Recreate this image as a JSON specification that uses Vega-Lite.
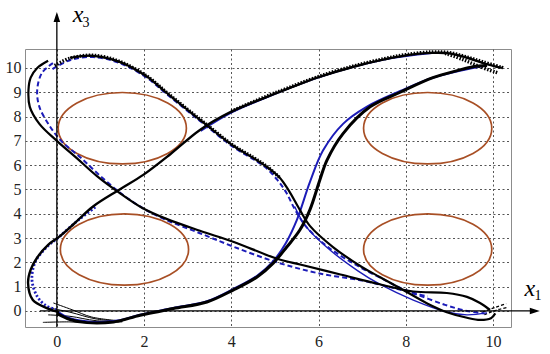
{
"$schema": "https://vega.github.io/schema/vega-lite/v6.json",
"width": 486, "height": 278,
"autosize": {"type": "none"},
"padding": {"left": 25, "top": 49, "right": 39, "bottom": 27},
"background": "white",
"config": {
  "view": {"stroke": "#8c8c8c", "strokeWidth": 1},
  "axis": {"grid": true, "gridDash": [2, 2.5], "gridColor": "#555", "gridWidth": 1, "domain": false, "ticks": false, "labelFont": "Liberation Serif", "labelFontSize": 16, "labelColor": "#222", "title": null},
  "line": {"interpolate": "catmull-rom", "strokeCap": "butt"}
},
"datasets": {
  "traj": [
    {"s":"p1k","i":0,"x":-0.2,"y":10.3},{"s":"p1k","i":1,"x":-0.45,"y":10.0},{"s":"p1k","i":2,"x":-0.6,"y":9.6},{"s":"p1k","i":3,"x":-0.65,"y":9.1},{"s":"p1k","i":4,"x":-0.62,"y":8.4},{"s":"p1k","i":5,"x":-0.4,"y":7.7},{"s":"p1k","i":6,"x":0,"y":7.0},{"s":"p1k","i":7,"x":0.45,"y":6.3},{"s":"p1k","i":8,"x":0.92,"y":5.55},{"s":"p1k","i":9,"x":1.42,"y":4.88},{"s":"p1k","i":10,"x":1.95,"y":4.25},{"s":"p1k","i":11,"x":2.5,"y":3.8},{"s":"p1k","i":12,"x":3.28,"y":3.3},{"s":"p1k","i":13,"x":4.04,"y":2.85},{"s":"p1k","i":14,"x":5.05,"y":2.15},{"s":"p1k","i":15,"x":5.6,"y":1.9},{"s":"p1k","i":16,"x":6.5,"y":1.5},{"s":"p1k","i":17,"x":7.4,"y":1.1},{"s":"p1k","i":18,"x":8.17,"y":0.8},{"s":"p1k","i":19,"x":8.94,"y":0.74},{"s":"p1k","i":20,"x":9.4,"y":0.58},{"s":"p1k","i":21,"x":9.7,"y":0.33},{"s":"p1k","i":22,"x":9.93,"y":0.04},
    {"s":"p1b","i":0,"x":-0.09,"y":10.2},{"s":"p1b","i":1,"x":-0.34,"y":9.8},{"s":"p1b","i":2,"x":-0.45,"y":9.1},{"s":"p1b","i":3,"x":-0.4,"y":8.4},{"s":"p1b","i":4,"x":-0.16,"y":7.6},{"s":"p1b","i":5,"x":0.1,"y":7.0},{"s":"p1b","i":6,"x":0.55,"y":6.3},{"s":"p1b","i":7,"x":1.0,"y":5.55},{"s":"p1b","i":8,"x":1.5,"y":4.8},{"s":"p1b","i":9,"x":2.0,"y":4.2},{"s":"p1b","i":10,"x":2.5,"y":3.75},{"s":"p1b","i":11,"x":3.28,"y":3.2},{"s":"p1b","i":12,"x":4.04,"y":2.65},{"s":"p1b","i":13,"x":5.05,"y":2.0},{"s":"p1b","i":14,"x":6,"y":1.55},{"s":"p1b","i":15,"x":7.0,"y":1.25},{"s":"p1b","i":16,"x":7.6,"y":1.0},{"s":"p1b","i":17,"x":8.17,"y":0.72},{"s":"p1b","i":18,"x":8.9,"y":0.25},{"s":"p1b","i":19,"x":9.4,"y":0.0},{"s":"p1b","i":20,"x":9.8,"y":-0.1},
    {"s":"p2k","i":0,"x":0.05,"y":-0.05},{"s":"p2k","i":1,"x":-0.23,"y":0.12},{"s":"p2k","i":2,"x":-0.55,"y":0.45},{"s":"p2k","i":3,"x":-0.66,"y":1.15},{"s":"p2k","i":4,"x":-0.6,"y":1.7},{"s":"p2k","i":5,"x":-0.45,"y":2.2},{"s":"p2k","i":6,"x":-0.2,"y":2.72},{"s":"p2k","i":7,"x":0.05,"y":3.05},{"s":"p2k","i":8,"x":0.4,"y":3.6},{"s":"p2k","i":9,"x":0.83,"y":4.3},{"s":"p2k","i":10,"x":1.44,"y":5.0},{"s":"p2k","i":11,"x":1.98,"y":5.6},{"s":"p2k","i":12,"x":2.6,"y":6.45},{"s":"p2k","i":13,"x":3.28,"y":7.45},{"s":"p2k","i":14,"x":4.0,"y":8.2},{"s":"p2k","i":15,"x":4.73,"y":8.75},{"s":"p2k","i":16,"x":5.3,"y":9.15},{"s":"p2k","i":17,"x":6,"y":9.62},{"s":"p2k","i":18,"x":6.8,"y":10.05},{"s":"p2k","i":19,"x":7.5,"y":10.35},{"s":"p2k","i":20,"x":8.0,"y":10.52},{"s":"p2k","i":21,"x":8.6,"y":10.62},{"s":"p2k","i":22,"x":9.0,"y":10.6},{"s":"p2k","i":23,"x":9.4,"y":10.42},{"s":"p2k","i":24,"x":9.77,"y":10.2},{"s":"p2k","i":25,"x":10.2,"y":10.0},
    {"s":"p2d","i":0,"x":4.0,"y":8.22},{"s":"p2d","i":1,"x":4.73,"y":8.78},{"s":"p2d","i":2,"x":5.3,"y":9.18},{"s":"p2d","i":3,"x":6,"y":9.65},{"s":"p2d","i":4,"x":6.8,"y":10.08},{"s":"p2d","i":5,"x":7.5,"y":10.38},{"s":"p2d","i":6,"x":8.0,"y":10.55},{"s":"p2d","i":7,"x":8.6,"y":10.66},{"s":"p2d","i":8,"x":9.0,"y":10.63},{"s":"p2d","i":9,"x":9.4,"y":10.45},{"s":"p2d","i":10,"x":9.77,"y":10.25},{"s":"p2d","i":11,"x":10.25,"y":10.0},
    {"s":"p2e","i":0,"x":8.9,"y":10.6},{"s":"p2e","i":1,"x":9.3,"y":10.35},{"s":"p2e","i":2,"x":9.7,"y":10.05},{"s":"p2e","i":3,"x":10.1,"y":9.8},
    {"s":"p2b","i":0,"x":0.0,"y":0.05},{"s":"p2b","i":1,"x":-0.25,"y":0.22},{"s":"p2b","i":2,"x":-0.45,"y":0.6},{"s":"p2b","i":3,"x":-0.57,"y":1.28},{"s":"p2b","i":4,"x":-0.5,"y":2.0},{"s":"p2b","i":5,"x":-0.25,"y":2.6},{"s":"p2b","i":6,"x":0.05,"y":3.05},{"s":"p2b","i":7,"x":0.5,"y":3.75},{"s":"p2b","i":8,"x":0.9,"y":4.3},
    {"s":"p2s","i":0,"x":3.3,"y":7.4},{"s":"p2s","i":1,"x":4.0,"y":8.15},{"s":"p2s","i":2,"x":4.73,"y":8.72},{"s":"p2s","i":3,"x":6,"y":9.6},{"s":"p2s","i":4,"x":7.5,"y":10.33},{"s":"p2s","i":5,"x":8.6,"y":10.6},
    {"s":"p3k","i":0,"x":0.0,"y":-0.1},{"s":"p3k","i":1,"x":0.3,"y":-0.35},{"s":"p3k","i":2,"x":0.69,"y":-0.48},{"s":"p3k","i":3,"x":1.3,"y":-0.45},{"s":"p3k","i":4,"x":1.91,"y":-0.18},{"s":"p3k","i":5,"x":2.67,"y":0.1},{"s":"p3k","i":6,"x":3.44,"y":0.37},{"s":"p3k","i":7,"x":4.04,"y":0.86},{"s":"p3k","i":8,"x":4.59,"y":1.4},{"s":"p3k","i":9,"x":4.96,"y":1.97},{"s":"p3k","i":10,"x":5.27,"y":2.63},{"s":"p3k","i":11,"x":5.57,"y":3.33},{"s":"p3k","i":12,"x":5.8,"y":4.16},{"s":"p3k","i":13,"x":6.03,"y":5.4},{"s":"p3k","i":14,"x":6.19,"y":6.2},{"s":"p3k","i":15,"x":6.56,"y":7.3},{"s":"p3k","i":16,"x":7.18,"y":8.4},{"s":"p3k","i":17,"x":7.87,"y":9.0},{"s":"p3k","i":18,"x":8.62,"y":9.6},{"s":"p3k","i":19,"x":9.2,"y":9.9},{"s":"p3k","i":20,"x":9.54,"y":10.05},{"s":"p3k","i":21,"x":9.86,"y":10.1},
    {"s":"p3b","i":0,"x":0.0,"y":0.0},{"s":"p3b","i":1,"x":0.3,"y":-0.3},{"s":"p3b","i":2,"x":0.83,"y":-0.45},{"s":"p3b","i":3,"x":1.44,"y":-0.38},{"s":"p3b","i":4,"x":1.91,"y":-0.15},{"s":"p3b","i":5,"x":2.67,"y":0.12},{"s":"p3b","i":6,"x":3.44,"y":0.4},{"s":"p3b","i":7,"x":4.04,"y":0.9},{"s":"p3b","i":8,"x":4.59,"y":1.45},{"s":"p3b","i":9,"x":4.96,"y":2.05},{"s":"p3b","i":10,"x":5.25,"y":2.8},{"s":"p3b","i":11,"x":5.5,"y":3.74},{"s":"p3b","i":12,"x":5.8,"y":5.3},{"s":"p3b","i":13,"x":6.1,"y":6.6},{"s":"p3b","i":14,"x":6.56,"y":7.7},{"s":"p3b","i":15,"x":7.1,"y":8.4},{"s":"p3b","i":16,"x":7.87,"y":9.05},{"s":"p3b","i":17,"x":8.62,"y":9.6},{"s":"p3b","i":18,"x":9.54,"y":10.0},{"s":"p3b","i":19,"x":9.86,"y":10.1},
    {"s":"p4k","i":0,"x":0.3,"y":10.42},{"s":"p4k","i":1,"x":0.83,"y":10.5},{"s":"p4k","i":2,"x":1.44,"y":10.25},{"s":"p4k","i":3,"x":2.06,"y":9.65},{"s":"p4k","i":4,"x":2.5,"y":9.0},{"s":"p4k","i":5,"x":2.98,"y":8.3},{"s":"p4k","i":6,"x":3.4,"y":7.7},{"s":"p4k","i":7,"x":4.04,"y":6.8},{"s":"p4k","i":8,"x":4.5,"y":6.3},{"s":"p4k","i":9,"x":4.8,"y":5.95},{"s":"p4k","i":10,"x":5.1,"y":5.5},{"s":"p4k","i":11,"x":5.3,"y":5.0},{"s":"p4k","i":12,"x":5.57,"y":4.16},{"s":"p4k","i":13,"x":5.8,"y":3.5},{"s":"p4k","i":14,"x":6.33,"y":2.63},{"s":"p4k","i":15,"x":7.0,"y":1.8},{"s":"p4k","i":16,"x":7.4,"y":1.4},{"s":"p4k","i":17,"x":8.0,"y":0.8},{"s":"p4k","i":18,"x":8.5,"y":0.3},{"s":"p4k","i":19,"x":8.94,"y":-0.05},{"s":"p4k","i":20,"x":9.4,"y":-0.28},{"s":"p4k","i":21,"x":9.7,"y":-0.37},{"s":"p4k","i":22,"x":9.95,"y":-0.3},{"s":"p4k","i":23,"x":10.05,"y":-0.1},
    {"s":"p4d","i":0,"x":-0.05,"y":10.1},{"s":"p4d","i":1,"x":0.3,"y":10.4},{"s":"p4d","i":2,"x":0.83,"y":10.52},{"s":"p4d","i":3,"x":1.44,"y":10.27},{"s":"p4d","i":4,"x":2.06,"y":9.67},{"s":"p4d","i":5,"x":2.5,"y":9.02},{"s":"p4d","i":6,"x":2.98,"y":8.32},{"s":"p4d","i":7,"x":3.4,"y":7.72},{"s":"p4d","i":8,"x":4.04,"y":6.82},{"s":"p4d","i":9,"x":4.5,"y":6.32},{"s":"p4d","i":10,"x":4.8,"y":5.97},{"s":"p4d","i":11,"x":5.1,"y":5.5},
    {"s":"p4b","i":0,"x":-0.1,"y":9.95},{"s":"p4b","i":1,"x":0.3,"y":10.32},{"s":"p4b","i":2,"x":0.83,"y":10.45},{"s":"p4b","i":3,"x":1.44,"y":10.2},{"s":"p4b","i":4,"x":2.06,"y":9.6},{"s":"p4b","i":5,"x":2.5,"y":8.95},{"s":"p4b","i":6,"x":2.98,"y":8.25},{"s":"p4b","i":7,"x":3.4,"y":7.65},{"s":"p4b","i":8,"x":4.04,"y":6.75},{"s":"p4b","i":9,"x":4.5,"y":6.25},{"s":"p4b","i":10,"x":4.8,"y":5.88},{"s":"p4b","i":11,"x":5.05,"y":5.4},{"s":"p4b","i":12,"x":5.25,"y":4.9},{"s":"p4b","i":13,"x":5.45,"y":4.2},{"s":"p4b","i":14,"x":5.7,"y":3.5},{"s":"p4b","i":15,"x":6.2,"y":2.65},{"s":"p4b","i":16,"x":6.9,"y":1.85},{"s":"p4b","i":17,"x":7.4,"y":1.38},{"s":"p4b","i":18,"x":8.0,"y":0.85},{"s":"p4b","i":19,"x":8.5,"y":0.6},
    {"s":"p4s","i":0,"x":5.45,"y":4.3},{"s":"p4s","i":1,"x":5.7,"y":3.5},{"s":"p4s","i":2,"x":6.2,"y":2.6},{"s":"p4s","i":3,"x":6.9,"y":1.65},{"s":"p4s","i":4,"x":7.4,"y":1.1},{"s":"p4s","i":5,"x":8.17,"y":0.45},{"s":"p4s","i":6,"x":8.94,"y":-0.04},{"s":"p4s","i":7,"x":9.4,"y":-0.16},{"s":"p4s","i":8,"x":9.86,"y":-0.08},
    {"s":"f1","i":0,"x":-0.32,"y":-0.47},{"s":"f1","i":1,"x":0.3,"y":-0.45},{"s":"f1","i":2,"x":0.9,"y":-0.5},{"s":"f1","i":3,"x":1.5,"y":-0.45},
    {"s":"f2","i":0,"x":-0.2,"y":-0.16},{"s":"f2","i":1,"x":0.3,"y":-0.22},{"s":"f2","i":2,"x":0.9,"y":-0.4},{"s":"f2","i":3,"x":1.5,"y":-0.43},
    {"s":"f3","i":0,"x":-0.16,"y":0.12},{"s":"f3","i":1,"x":0.3,"y":-0.05},{"s":"f3","i":2,"x":0.9,"y":-0.33},{"s":"f3","i":3,"x":1.5,"y":-0.42},
    {"s":"f4","i":0,"x":-0.08,"y":0.33},{"s":"f4","i":1,"x":0.35,"y":0.05},{"s":"f4","i":2,"x":0.8,"y":-0.25},{"s":"f4","i":3,"x":1.4,"y":-0.4},
    {"s":"r1","i":0,"x":9.75,"y":-0.05},{"s":"r1","i":1,"x":10.05,"y":0.15},{"s":"r1","i":2,"x":10.3,"y":0.3},
    {"s":"r2","i":0,"x":9.8,"y":-0.15},{"s":"r2","i":1,"x":10.1,"y":0.05},{"s":"r2","i":2,"x":10.35,"y":0.15}
  ]
},
"encoding": {
  "x": {"field": "x", "type": "quantitative", "scale": {"domain": [-0.73, 10.41], "nice": false, "zero": false}, "axis": {"values": [0, 2, 4, 6, 8, 10], "labelPadding": 6, "labelFont": "Liberation Serif", "labelFontSize": 16}},
  "y": {"field": "y", "type": "quantitative", "scale": {"domain": [-0.66, 10.78], "nice": false, "zero": false}, "axis": {"values": [0, 1, 2, 3, 4, 5, 6, 7, 8, 9, 10], "labelPadding": 4, "labelFont": "Liberation Serif", "labelFontSize": 16}}
},
"layer": [
  {
    "data": {"values": [{"x": 1.5, "y": 7.52}, {"x": 1.55, "y": 2.53}, {"x": 8.5, "y": 7.52}, {"x": 8.5, "y": 2.53}]},
    "mark": {"type": "point", "shape": "M-1,0C-1,-0.3077,-0.5523,-0.557,0,-0.557C0.5523,-0.557,1,-0.3077,1,0C1,0.3077,0.5523,0.557,0,0.557C-0.5523,0.557,-1,0.3077,-1,0Z", "size": 16436, "filled": false, "stroke": "#a84f25", "strokeWidth": 1.7, "opacity": 1}
  },
  {"data": {"name": "traj"}, "transform": [{"filter": "indexof(['f1','f2','f3','f4'], datum.s) >= 0"}],
   "mark": {"type": "line", "color": "#000", "strokeWidth": 1},
   "encoding": {"order": {"field": "i", "type": "quantitative"}, "detail": {"field": "s"}}},
  {"data": {"name": "traj"}, "transform": [{"filter": "indexof(['r1','r2'], datum.s) >= 0"}],
   "mark": {"type": "line", "color": "#000", "strokeWidth": 1.3, "strokeDash": [3, 2]},
   "encoding": {"order": {"field": "i", "type": "quantitative"}, "detail": {"field": "s"}}},
  {"data": {"name": "traj"}, "transform": [{"filter": "indexof(['p2s','p4s'], datum.s) >= 0"}],
   "mark": {"type": "line", "color": "#1c1cb8", "strokeWidth": 1.4},
   "encoding": {"order": {"field": "i", "type": "quantitative"}, "detail": {"field": "s"}}},
  {"data": {"name": "traj"}, "transform": [{"filter": "datum.s === 'p3b'"}],
   "mark": {"type": "line", "color": "#1c1cb8", "strokeWidth": 2},
   "encoding": {"order": {"field": "i", "type": "quantitative"}}},
  {"data": {"name": "traj"}, "transform": [{"filter": "indexof(['p1b','p4b'], datum.s) >= 0"}],
   "mark": {"type": "line", "color": "#1c1cb8", "strokeWidth": 2, "strokeDash": [5, 3]},
   "encoding": {"order": {"field": "i", "type": "quantitative"}, "detail": {"field": "s"}}},
  {"data": {"name": "traj"}, "transform": [{"filter": "datum.s === 'p2b'"}],
   "mark": {"type": "line", "color": "#1c1cb8", "strokeWidth": 2.8, "strokeDash": [2, 2]},
   "encoding": {"order": {"field": "i", "type": "quantitative"}}},
  {"data": {"name": "traj"}, "transform": [{"filter": "indexof(['p1k','p4k'], datum.s) >= 0"}],
   "mark": {"type": "line", "color": "#000", "strokeWidth": 2.2},
   "encoding": {"order": {"field": "i", "type": "quantitative"}, "detail": {"field": "s"}}},
  {"data": {"name": "traj"}, "transform": [{"filter": "datum.s === 'p2k'"}],
   "mark": {"type": "line", "color": "#000", "strokeWidth": 2.4},
   "encoding": {"order": {"field": "i", "type": "quantitative"}}},
  {"data": {"name": "traj"}, "transform": [{"filter": "datum.s === 'p3k'"}],
   "mark": {"type": "line", "color": "#000", "strokeWidth": 3},
   "encoding": {"order": {"field": "i", "type": "quantitative"}}},
  {"data": {"name": "traj"}, "transform": [{"filter": "indexof(['p2d','p4d','p2e'], datum.s) >= 0"}],
   "mark": {"type": "line", "color": "#000", "strokeWidth": 3.4, "strokeDash": [1.5, 1.5]},
   "encoding": {"order": {"field": "i", "type": "quantitative"}, "detail": {"field": "s"}}},
  {
    "data": {"values": [{"x": 0, "y": -0.66, "x2": 0, "y2": 12.2}, {"x": -0.39, "y": 0, "x2": 10.98, "y2": 0}]},
    "mark": {"type": "rule", "color": "#000", "strokeWidth": 1.3},
    "encoding": {"x2": {"field": "x2"}, "y2": {"field": "y2"}}
  },
  {
    "data": {"values": [{"x": 0, "y": 12.3}]},
    "mark": {"type": "point", "shape": "M0,0L0.33,1L-0.33,1Z", "size": 400, "filled": true, "color": "#000", "opacity": 1}
  },
  {
    "data": {"values": [{"x": 11.07, "y": 0}]},
    "mark": {"type": "point", "shape": "M0,0L-1,-0.33L-1,0.33Z", "size": 400, "filled": true, "color": "#000", "opacity": 1}
  },
  {
    "data": {"values": [{"x": 0.485, "y": 12.18, "t": "x"}, {"x": 10.84, "y": 0.9, "t": "x"}]},
    "mark": {"type": "text", "font": "Liberation Serif", "fontStyle": "italic", "fontSize": 24, "color": "#000", "baseline": "middle", "align": "center"},
    "encoding": {"text": {"field": "t"}}
  },
  {
    "data": {"values": [{"x": 0.67, "y": 11.86, "t": "3"}, {"x": 11.03, "y": 0.6, "t": "1"}]},
    "mark": {"type": "text", "font": "Liberation Serif", "fontSize": 14, "color": "#000", "baseline": "middle", "align": "center"},
    "encoding": {"text": {"field": "t"}}
  }
]
}
